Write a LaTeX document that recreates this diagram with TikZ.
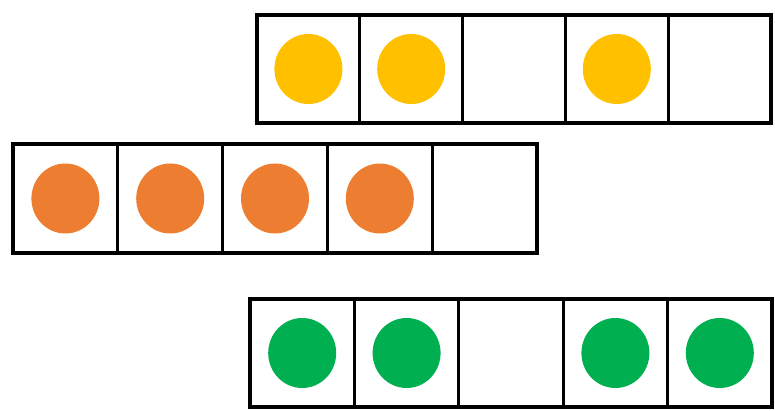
\documentclass[tikz,border=0pt]{standalone}
\usetikzlibrary{shapes.geometric}

\definecolor{dotyellow}{HTML}{FFC000}
\definecolor{dotorange}{HTML}{ED7D31}
\definecolor{dotgreen}{HTML}{00B050}

\begin{document}
\begin{tikzpicture}[x=1pt, y=-1pt,
                cell/.style={draw, line width=3.2pt, inner sep=0pt, minimum height=108pt},
                dot/.style={ellipse, inner sep=0pt, minimum width=68pt, minimum height=70pt}]

                \useasboundingbox (0,0) rectangle (775,411);

                % Top row - yellow
                \foreach \i in {1,...,5}
                    \node[cell, minimum width=102.8pt] (top\i) at ({257+(\i-0.5)*102.8},69) {};
                \foreach \i in {1,2,4}
                    \node[dot, fill=dotyellow] (ydot\i) at (top\i) {};

                % Middle row - orange
                \foreach \i in {1,...,5}
                    \node[cell, minimum width=104.8pt, minimum height=109pt] (mid\i) at ({13+(\i-0.5)*104.8},198.5) {};
                \foreach \i in {1,...,4}
                    \node[dot, fill=dotorange] (odot\i) at (mid\i) {};

                % Bottom row - green
                \foreach \i in {1,...,5}
                    \node[cell, minimum width=104.4pt] (bot\i) at ({250+(\i-0.5)*104.4},353) {};
                \foreach \i in {1,2,4,5}
                    \node[dot, fill=dotgreen] (gdot\i) at (bot\i) {};
\end{tikzpicture}
\end{document}
